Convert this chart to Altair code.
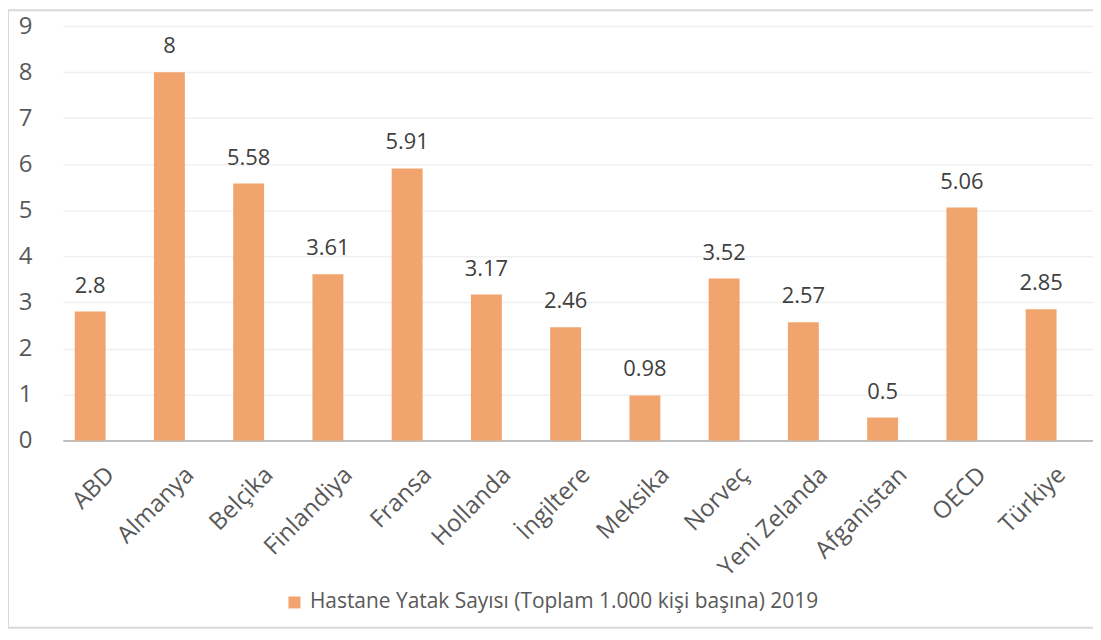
import altair as alt
import pandas as pd

countries = ["ABD", "Almanya", "Belçika", "Finlandiya", "Fransa", "Hollanda", "İngiltere",
             "Meksika", "Norveç", "Yeni Zelanda", "Afganistan", "OECD", "Türkiye"]
values = [2.8, 8, 5.58, 3.61, 5.91, 3.17, 2.46, 0.98, 3.52, 2.57, 0.5, 5.06, 2.85]
labels = ["2.8", "8", "5.58", "3.61", "5.91", "3.17", "2.46", "0.98", "3.52", "2.57", "0.5", "5.06", "2.85"]
series = "Hastane Yatak Sayısı (Toplam 1.000 kişi başına) 2019"

df = pd.DataFrame({"country": countries, "value": values, "label": labels, "series": series})

FONT = "Open Sans"
COLOR = "#F1A46D"

x = alt.X("country:N", sort=None, title=None,
          scale=alt.Scale(paddingInner=0.61, paddingOuter=0.305),
          axis=alt.Axis(labelAngle=-45, labelFontSize=24, labelColor="#595959", labelFont=FONT,
                        ticks=False, domainColor="#BFBFBF", domainWidth=2, labelPadding=22))
y = alt.Y("value:Q", title=None,
          scale=alt.Scale(domain=[0, 9]),
          axis=alt.Axis(values=list(range(10)), labelFontSize=24, labelColor="#595959", labelFont=FONT,
                        ticks=False, domain=False, gridColor="#F0F0F0", gridWidth=1.5, labelPadding=31))

bars = alt.Chart(df).mark_bar(color=COLOR, opacity=1, xOffset=-12.3).encode(
    x=x, y=y,
    color=alt.Color("series:N", scale=alt.Scale(range=[COLOR]),
                    legend=alt.Legend(title=None, orient="none", legendX=222, legendY=568,
                                      symbolType="square", symbolSize=144, labelFontSize=21,
                                      labelFont=FONT, labelColor="#595959", labelLimit=800,
                                      symbolStrokeWidth=0, labelOffset=5))
)

text = alt.Chart(df).mark_text(baseline="bottom", dy=-14, dx=-12.3, fontSize=22, font=FONT,
                               color="#404040").encode(
    x=alt.X("country:N", sort=None), y="value:Q", text="label:N"
)

border = alt.Chart(pd.DataFrame({"a": [0]})).mark_rect(fill=None, stroke="#D9D9D9", strokeWidth=2).encode(
    x=alt.value(-55), x2=alt.value(1045), y=alt.value(-16), y2=alt.value(604)
)

chart = alt.layer(border, bars, text).properties(
    width=1034, height=416,
    autosize=alt.AutoSizeParams(type="none"),
    padding={"left": 55, "top": 17, "right": 0, "bottom": 191}
).configure_view(stroke=None)

chart.save("out.html", embed_options={"renderer": "svg", "actions": False})
